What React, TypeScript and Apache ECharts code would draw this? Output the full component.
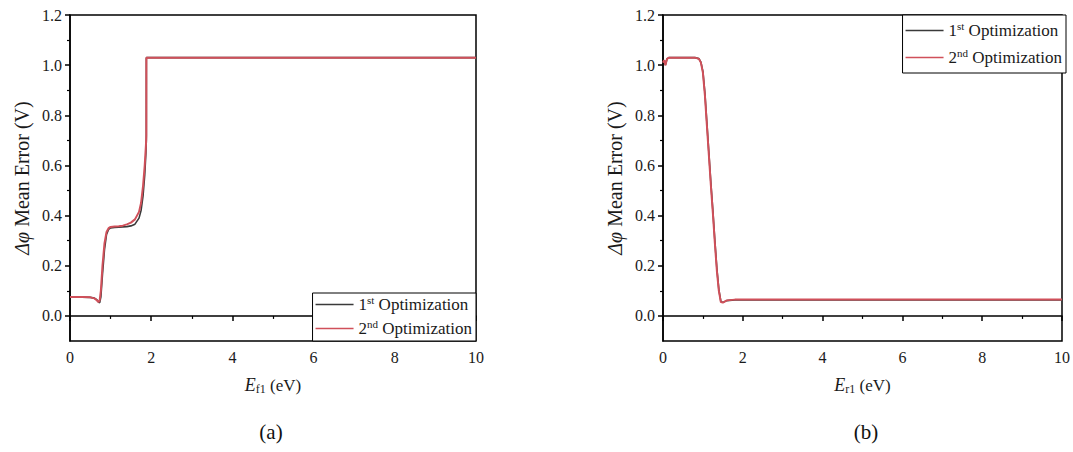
import React, { useEffect, useRef } from 'react';
import * as echarts from 'echarts';

// ---- Data ----
// (a) Δφ mean error vs E_f1
const aX = [0, 0.3, 0.5, 0.6, 0.65, 0.7, 0.73, 0.76, 0.8, 0.85, 0.9, 0.95, 1.0, 1.1, 1.2, 1.3, 1.4, 1.5, 1.6, 1.7, 1.75, 1.8, 1.84, 1.87, 1.88, 1.881, 3, 5, 7, 10];
const aFirst = [0.075, 0.075, 0.074, 0.071, 0.066, 0.057, 0.052, 0.075, 0.165, 0.265, 0.325, 0.345, 0.351, 0.353, 0.354, 0.355, 0.356, 0.359, 0.366, 0.39, 0.42, 0.48, 0.56, 0.65, 0.7, 1.03, 1.03, 1.03, 1.03, 1.03];
const aSecond = [0.075, 0.075, 0.074, 0.07, 0.064, 0.055, 0.062, 0.1, 0.2, 0.29, 0.335, 0.35, 0.355, 0.357, 0.358, 0.36, 0.365, 0.372, 0.385, 0.415, 0.45, 0.52, 0.6, 0.68, 0.72, 1.03, 1.03, 1.03, 1.03, 1.03];

// (b) Δφ mean error vs E_r1
const bX = [0, 0.03, 0.06, 0.1, 0.15, 0.5, 0.8, 0.9, 0.95, 1.0, 1.05, 1.1, 1.15, 1.2, 1.25, 1.3, 1.35, 1.4, 1.45, 1.5, 1.6, 1.8, 3, 5, 7, 10];
const bFirst = [1.01, 1.02, 1.0, 1.025, 1.03, 1.03, 1.03, 1.026, 1.012, 0.975, 0.89, 0.77, 0.65, 0.53, 0.42, 0.3, 0.19, 0.105, 0.058, 0.054, 0.061, 0.064, 0.064, 0.064, 0.064, 0.064];
const bSecond = [1.01, 1.02, 1.0, 1.025, 1.03, 1.03, 1.03, 1.025, 1.01, 0.97, 0.88, 0.76, 0.64, 0.52, 0.41, 0.29, 0.18, 0.1, 0.055, 0.053, 0.062, 0.065, 0.065, 0.065, 0.065, 0.065];

const seriesNames = ['1st Optimization', '2nd Optimization'];
const yTickValues = [0, 0.2, 0.4, 0.6, 0.8, 1.0, 1.2];
const yMinorValues = [0.1, 0.3, 0.5, 0.7, 0.9, 1.1];
const xAxisNames = ['{it|E}{sub|f1}{n| (eV)}', '{it|E}{sub|r1}{n| (eV)}'];
const panelLabels = ['(a)', '(b)'];

const FONT = 'Liberation Serif';
const BLACK = '#3a3a3a';
const RED = '#d0505a';
const TXT = '#1a1a1a';

const pair = (xs: number[], ys: number[]) => xs.map((x, i) => [x, ys[i]]);

export default function App() {
  const ref = useRef<HTMLDivElement>(null);

  useEffect(() => {
    if (!ref.current) return;
    const chart = echarts.init(ref.current, undefined, { renderer: 'svg' });

    const grids = [
      { left: 70, top: 15, width: 406, height: 326 },
      { left: 663, top: 15, width: 405, height: 326 },
    ];

    const xAxis = grids.map((_, gi) => ({
      type: 'value',
      gridIndex: gi,
      min: 0,
      max: 10,
      interval: 2,
      name: xAxisNames[gi],
      nameLocation: 'middle',
      nameGap: 34,
      nameTextStyle: {
        fontFamily: FONT,
        fontSize: 17,
        color: TXT,
        rich: {
          it: { fontFamily: FONT, fontSize: 18, fontStyle: 'italic', color: TXT },
          sub: { fontFamily: FONT, fontSize: 12, color: TXT, padding: [8, 0, 0, 0] },
          n: { fontFamily: FONT, fontSize: 17, color: TXT },
        },
      },
      axisLine: { show: true, lineStyle: { color: '#000', width: 1.5 } },
      axisTick: { show: true, inside: false, length: 5, lineStyle: { color: '#000', width: 1.5 } },
      minorTick: { show: true, splitNumber: 2, length: 3, lineStyle: { color: '#000', width: 1.2 } },
      splitLine: { show: false },
      minorSplitLine: { show: false },
      axisLabel: { fontFamily: FONT, fontSize: 16, color: TXT, margin: 8 },
    }));

    const yAxis: any[] = [];
    grids.forEach((_, gi) => {
      yAxis.push({
        type: 'value',
        gridIndex: gi,
        min: -0.1,
        max: 1.2,
        name: '{g|Δ}{it|φ}{n| Mean Error (V)}',
        nameLocation: 'middle',
        nameGap: 38,
        nameRotate: 90,
        nameTextStyle: {
          fontFamily: FONT,
          fontSize: 20,
          color: TXT,
          rich: {
            g: { fontFamily: FONT, fontSize: 20, fontStyle: 'italic', color: TXT },
            it: { fontFamily: FONT, fontSize: 20, fontStyle: 'italic', color: TXT },
            n: { fontFamily: FONT, fontSize: 20, color: TXT },
          },
        },
        axisLine: { show: true, lineStyle: { color: '#000', width: 1.5 } },
        axisTick: { show: true, inside: false, length: 5, customValues: yTickValues, lineStyle: { color: '#000', width: 1.5 } },
        splitLine: { show: false },
        axisLabel: {
          fontFamily: FONT,
          fontSize: 16,
          color: TXT,
          margin: 8,
          customValues: yTickValues,
          formatter: (v: number) => v.toFixed(1),
        },
      });
      yAxis.push({
        type: 'value',
        gridIndex: gi,
        position: 'left',
        min: -0.1,
        max: 1.2,
        axisLine: { show: false },
        axisTick: { show: true, inside: false, length: 3, customValues: yMinorValues, lineStyle: { color: '#000', width: 1.2 } },
        axisLabel: { show: false },
        splitLine: { show: false },
      });
    });

    const lineSeries = (name: string, data: number[][], gi: number, color: string, width: number) => ({
      type: 'line',
      name,
      xAxisIndex: gi,
      yAxisIndex: gi * 2,
      data,
      showSymbol: false,
      symbol: 'none',
      lineStyle: { color, width },
      itemStyle: { color },
      z: name === seriesNames[1] ? 3 : 2,
    });

    const legendCommon = {
      orient: 'vertical',
      data: seriesNames,
      icon: 'rect',
      itemWidth: 38,
      itemHeight: 1.6,
      itemGap: 3,
      padding: [1, 4, 2, 3],
      borderColor: '#000',
      borderWidth: 1,
      backgroundColor: '#fff',
      selectedMode: false,
      formatter: (name: string) =>
        name === seriesNames[0] ? '{n|1}{sup|st}{n| Optimization}' : '{n|2}{sup|nd}{n| Optimization}',
      textStyle: {
        fontFamily: FONT,
        fontSize: 17,
        color: TXT,
        lineHeight: 21,
        rich: {
          n: { fontFamily: FONT, fontSize: 17, color: TXT, lineHeight: 21 },
          sup: { fontFamily: FONT, fontSize: 11, color: TXT, verticalAlign: 'top', lineHeight: 21, padding: [0, 0, 6, 0] },
        },
      },
    };

    const option: any = {
      animation: false,
      backgroundColor: '#fff',
      textStyle: { fontFamily: FONT },
      grid: grids.map((g) => ({ ...g, show: true, borderColor: '#000', borderWidth: 1.5, backgroundColor: 'transparent', containLabel: false })),
      xAxis,
      yAxis,
      legend: [
        { ...legendCommon, right: 1073 - 476, bottom: 452 - 341 },
        { ...legendCommon, right: 1073 - 1066, top: 15, itemGap: 6, padding: [5, 4, 5, 3] },
      ],
      series: [
        lineSeries(seriesNames[0], pair(aX, aFirst), 0, BLACK, 1.6),
        lineSeries(seriesNames[1], pair(aX, aSecond), 0, RED, 2),
        lineSeries(seriesNames[0], pair(bX, bFirst), 1, BLACK, 1.6),
        lineSeries(seriesNames[1], pair(bX, bSecond), 1, RED, 2),
      ],
      graphic: [
        { type: 'text', x: 271, y: 432, style: { text: panelLabels[0], fontFamily: FONT, fontSize: 21, fill: '#111', align: 'center', verticalAlign: 'middle' } },
        { type: 'text', x: 866, y: 432, style: { text: panelLabels[1], fontFamily: FONT, fontSize: 21, fill: '#111', align: 'center', verticalAlign: 'middle' } },
      ],
    };

    chart.setOption(option);
    return () => chart.dispose();
  }, []);

  return <div ref={ref} style={{ position: 'absolute', left: 0, top: 0, width: 1073, height: 452 }} />;
}
